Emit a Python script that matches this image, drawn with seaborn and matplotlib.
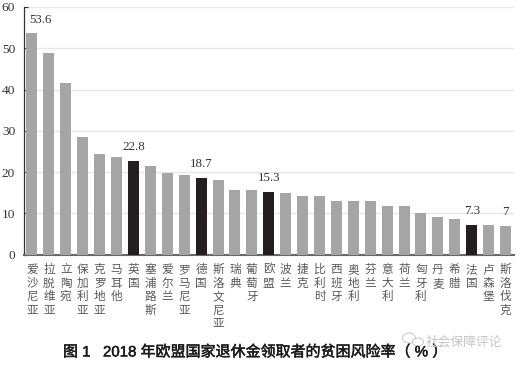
import matplotlib
matplotlib.use('Agg')
import matplotlib.pyplot as plt
import matplotlib.patheffects as pe
from matplotlib.patches import Ellipse
import pandas as pd
import seaborn as sns

countries = ['爱沙尼亚', '拉脱维亚', '立陶宛', '保加利亚', '克罗地亚', '马耳他', '英国', '塞浦路斯',
             '爱尔兰', '罗马尼亚', '德国', '斯洛文尼亚', '瑞典', '葡萄牙', '欧盟', '波兰', '捷克',
             '比利时', '西班牙', '奥地利', '芬兰', '意大利', '荷兰', '匈牙利', '丹麦', '希腊', '法国',
             '卢森堡', '斯洛伐克']
values = [53.6, 48.8, 41.7, 28.4, 24.5, 23.7, 22.8, 21.4, 19.9, 19.4, 18.7, 18.1, 15.7, 15.6,
          15.3, 14.9, 14.2, 14.1, 13.0, 13.0, 12.9, 11.9, 11.9, 10.0, 9.2, 8.6, 7.3, 7.1, 6.9]
highlighted = ['英国', '德国', '欧盟', '法国']
labels = {'爱沙尼亚': '53.6', '英国': '22.8', '德国': '18.7', '欧盟': '15.3', '法国': '7.3', '斯洛伐克': '7'}
yticks = [0, 10, 20, 30, 40, 50, 60]
title = '图 1   2018 年欧盟国家退休金领取者的贫困风险率（ % ）'
watermark = '社会保障评论'

CJK = ['Noto Sans CJK SC', 'DejaVu Sans']
SERIF = ['Liberation Serif', 'DejaVu Serif']

data = pd.DataFrame({'country': countries, 'value': values})
data['group'] = ['dark' if c in highlighted else 'gray' for c in countries]

sns.set_style('white')
plt.rcParams['font.family'] = CJK

fig = plt.figure(figsize=(5.21, 3.65), dpi=100)
ax = fig.add_axes([23.5 / 521, 1 - 254.7 / 365, (514 - 23.5) / 521, (254.7 - 7) / 365])

sns.barplot(data=data, x='country', y='value', hue='group', dodge=False, legend=False,
            palette={'dark': '#231f20', 'gray': '#a5a5a5'}, width=0.65, saturation=1,
            linewidth=0, ax=ax, zorder=3)

ax.set_xlim(-0.5, 28.5)
ax.set_ylim(0, 60)
ax.set_xlabel('')
ax.set_ylabel('')
ax.set_yticks(yticks)
ax.set_yticklabels(yticks, family=SERIF, fontsize=9.6, color='#333333')
ax.tick_params(axis='y', direction='in', length=3, width=0.8, color='#333333', left=True, pad=6)
ax.yaxis.grid(True, color='#e6e6e6', lw=1)
ax.set_axisbelow(True)

ax.set_xticks(range(len(countries)))
ax.set_xticklabels(['\n'.join(c) for c in countries], fontsize=8.4, color='#5a5a5a', linespacing=1.05,
                   va='top')
ax.tick_params(axis='x', length=0, pad=6)

sns.despine(ax=ax, top=True, right=True)
ax.spines['left'].set_color('#333333')
ax.spines['left'].set_linewidth(0.9)
ax.spines['bottom'].set_color('#666666')
ax.spines['bottom'].set_linewidth(1.5)

for i, c in enumerate(countries):
    if c in labels:
        dx = 6 if i == 0 else 0
        ax.annotate(labels[c], (i, values[i]), xytext=(dx, 10), textcoords='offset points',
                    ha='center', va='center', family=SERIF, fontsize=9.4, color='#333333')

# regular weight is too thin and bold too heavy, so thicken the regular a bit
fig.text(255 / 521, 1 - 352 / 365, title, ha='center', va='center', fontsize=10.8, color='#1a1a1a',
         family=['Liberation Sans', 'Noto Sans CJK SC'],
         path_effects=[pe.withStroke(linewidth=0.35, foreground='#1a1a1a')])
fig.text(426 / 521, 1 - 342 / 365, watermark, ha='left', va='center', fontsize=9.2, color='#c4c4c4', zorder=5)

# little wechat bubbles next to the watermark
for cx, cy, w, h in [(409, 338, 13, 10), (418, 342, 11, 8)]:
    fig.add_artist(Ellipse((cx / 521, 1 - cy / 365), w / 521, h / 365, transform=fig.transFigure,
                           fill=True, fc='white', ec='#c8c8c8', lw=0.8, alpha=0.9))

fig.savefig('out.png', dpi=100)
